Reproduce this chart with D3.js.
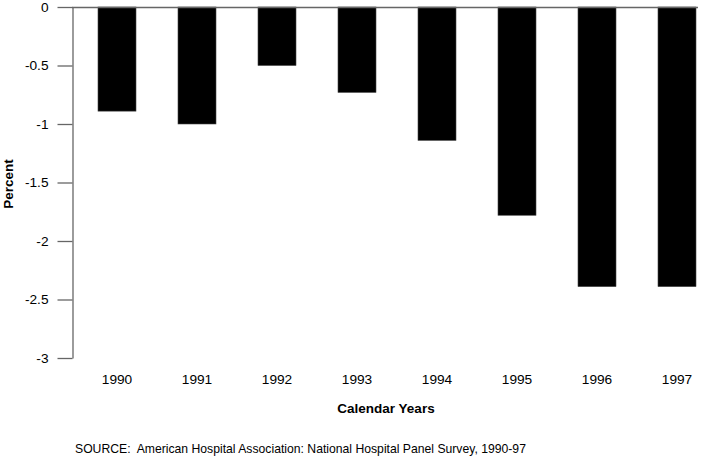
<!DOCTYPE html>
<html lang="en">
<head>
  <meta charset="UTF-8" />
  <title>Percent change, Calendar Years 1990-97</title>
  <script src="https://d3js.org/d3.v7.min.js"></script>
  <style>
    html, body {
      margin: 0;
      padding: 0;
      background: #fff;
      font-family: Arial, "Liberation Sans", sans-serif;
    }
    svg {
      display: block;
    }
  </style>
</head>
<body>
<svg width="706" height="460"></svg>
<script>
  // data
  const years = ["1990", "1991", "1992", "1993", "1994", "1995", "1996", "1997"];
  const values = [-0.89, -1.0, -0.5, -0.73, -1.14, -1.78, -2.39, -2.39];
  const yTicks = [0, -0.5, -1, -1.5, -2, -2.5, -3];
  const yTickLabels = ["0", "-0.5", "-1", "-1.5", "-2", "-2.5", "-3"];

  const svg = d3.select("svg");
  const axisColor = "#666";

  const x = d3.scaleBand()
    .domain(years)
    .range([77, 717])
    .paddingInner(0.525)
    .paddingOuter(0.2625);

  const y = d3.scaleLinear()
    .domain([0, -3])
    .range([7, 358]);

  // bars
  svg.append("g")
    .selectAll("rect")
    .data(years)
    .join("rect")
    .attr("x", d => x(d))
    .attr("y", y(0))
    .attr("width", x.bandwidth())
    .attr("height", (d, i) => y(values[i]) - y(0))
    .attr("fill", "#000")
    .attr("stroke", "#444")
    .attr("stroke-width", 0.6);

  // y axis
  const yAxis = d3.axisLeft(y)
    .tickValues(yTicks)
    .tickFormat((d, i) => yTickLabels[i])
    .tickSize(15)
    .tickPadding(9)
    .tickSizeOuter(0);

  const gy = svg.append("g")
    .attr("transform", "translate(72.5,0)")
    .call(yAxis);
  gy.select(".domain").attr("stroke", axisColor).attr("stroke-width", 1.3);
  gy.selectAll(".tick line").attr("stroke", axisColor).attr("stroke-width", 1.3);
  gy.selectAll(".tick text")
    .attr("fill", "#000")
    .style("font-size", "13.7px")
    .style("font-family", "Arial, 'Liberation Sans', sans-serif");

  // zero line across the plot
  svg.append("line")
    .attr("x1", 72)
    .attr("x2", 698)
    .attr("y1", y(0) + 0.5)
    .attr("y2", y(0) + 0.5)
    .attr("stroke", axisColor)
    .attr("stroke-width", 1.3);

  // x labels (no axis line)
  svg.append("g")
    .selectAll("text")
    .data(years)
    .join("text")
    .attr("x", d => x(d) + x.bandwidth() / 2)
    .attr("y", 384)
    .attr("text-anchor", "middle")
    .style("font-size", "13.7px")
    .text(d => d);

  svg.append("text")
    .attr("x", 386)
    .attr("y", 413)
    .attr("text-anchor", "middle")
    .style("font-size", "13.5px")
    .style("font-weight", "bold")
    .text("Calendar Years");

  svg.append("text")
    .attr("transform", "translate(13,184) rotate(-90)")
    .attr("text-anchor", "middle")
    .style("font-size", "13.5px")
    .style("font-weight", "bold")
    .text("Percent");

  svg.append("text")
    .attr("x", 75)
    .attr("y", 453)
    .style("font-size", "12.2px")
    .style("white-space", "pre")
    .text("SOURCE:  American Hospital Association: National Hospital Panel Survey, 1990-97");
</script>
</body>
</html>
